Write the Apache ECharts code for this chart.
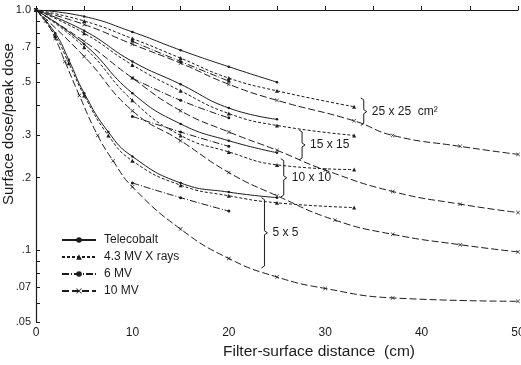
<!DOCTYPE html>
<html>
<head>
<meta charset="utf-8">
<script src="https://cdn.jsdelivr.net/npm/echarts@6/dist/echarts.min.js"></script>
<style>
  html, body { margin: 0; padding: 0; background: #fff; }
  #chart { width: 521px; height: 365px; }
</style>
</head>
<body>
<div id="chart"></div>
<script>
// [distance cm, surface dose / peak dose]
var cobalt25 = [[0,1],[5,0.94],[10,0.81],[15,0.68],[20,0.58],[25,0.50]];
var x43_25   = [[0,1],[5,0.90],[10,0.76],[15,0.63],[20,0.52],[25,0.46],[33,0.395]];
var mv6_25   = [[10,0.74],[15,0.61],[20,0.505]];
var mv10_25  = [[0,1],[5,0.87],[10,0.72],[15,0.60],[20,0.49],[25,0.42],[33,0.345],[37,0.30],[44,0.27],[50,0.25]];

var cobalt15 = [[0,1],[5,0.82],[10,0.61],[15,0.49],[20,0.39],[25,0.35]];
var x43_15   = [[0,1],[5,0.80],[10,0.59],[15,0.46],[20,0.37],[25,0.33],[33,0.30]];
var mv6_15   = [[10,0.52],[15,0.42],[20,0.355]];
var mv10_15  = [[0,1],[5,0.74],[10,0.52],[15,0.38],[20,0.31],[25,0.26],[30,0.215],[37,0.175],[44,0.155],[50,0.143]];

var cobalt10 = [[0,1],[5,0.72],[10,0.45],[15,0.335],[20,0.285],[25,0.254]];
var x43_10   = [[0,1],[5,0.70],[10,0.42],[15,0.30],[20,0.256],[25,0.226],[33,0.216]];
var mv6_10   = [[10,0.36],[15,0.31],[20,0.27]];
var mv10_10  = [[0,1],[5,0.64],[10,0.38],[15,0.285],[20,0.21],[25,0.168],[31,0.133],[37,0.116],[44,0.105],[50,0.098]];

var cobalt5  = [[0,1],[2,0.80],[3.4,0.62],[5,0.45],[7.5,0.31],[10,0.245],[15,0.19],[20,0.174],[25,0.165]];
var x43_5    = [[0,1],[2,0.78],[3.4,0.60],[5,0.44],[7.5,0.30],[10,0.235],[15,0.186],[20,0.168],[25,0.157],[33,0.15]];
var mv6_5    = [[10,0.19],[15,0.165],[20,0.145]];
var mv10_5   = [[0,1],[1,0.9],[2,0.76],[3,0.61],[4.5,0.44],[6.4,0.30],[8,0.235],[10,0.183],[15,0.122],[20,0.092],[25,0.077],[30,0.069],[37,0.063],[50,0.061]];

// y axis ticks / labels (log scale)
var yTickValues  = [1,0.9,0.8,0.7,0.6,0.5,0.4,0.3,0.2,0.1,0.09,0.08,0.07,0.06,0.05];
var yLabelValues = [1,0.7,0.5,0.3,0.2,0.1,0.07,0.05];
var yLabelTexts  = ['1.0','.7','.5','.3','.2','.1','.07','.05'];

// field-size braces: x (cm), top and bottom value, text
var braceX      = [34, 27.6, 25.7, 23.7];
var braceTop    = [0.43, 0.316, 0.24, 0.165];
var braceBottom = [0.33, 0.237, 0.166, 0.084];
var braceText   = ['25 x 25  cm\u00b2', '15 x 15', '10 x 10', '5 x 5'];

var INK = '#1c1c1c';
var FONT = '"Liberation Sans", Arial, sans-serif';
var cross = 'path://M0,1L1,0L5,4L9,0L10,1L6,5L10,9L9,10L5,6L1,10L0,9L4,5Z';

var beams = {
    'Telecobalt':    {type: 'solid',       symbol: 'circle',   size: 2.5},
    '4.3 MV X rays': {type: [3, 2],        symbol: 'triangle', size: 4},
    '6 MV':          {type: [7, 2, 1, 2],  symbol: 'circle',   size: 3},
    '10 MV':         {type: [7, 3],        symbol: cross,      size: 4}
};
var curves = [
    ['Telecobalt', cobalt25], ['4.3 MV X rays', x43_25], ['6 MV', mv6_25], ['10 MV', mv10_25],
    ['Telecobalt', cobalt15], ['4.3 MV X rays', x43_15], ['6 MV', mv6_15], ['10 MV', mv10_15],
    ['Telecobalt', cobalt10], ['4.3 MV X rays', x43_10], ['6 MV', mv6_10], ['10 MV', mv10_10],
    ['Telecobalt', cobalt5],  ['4.3 MV X rays', x43_5],  ['6 MV', mv6_5],  ['10 MV', mv10_5]
];

function lg(v){ return Math.log10(v); }

var series = curves.map(function(c){
    var b = beams[c[0]];
    return {
        name: c[0],
        type: 'line',
        smooth: 0.5,
        symbol: b.symbol,
        symbolSize: b.size,
        itemStyle: {color: INK},
        lineStyle: {color: INK, width: 1, type: b.type},
        data: c[1].map(function(p){ return [p[0], lg(p[1])]; })
    };
});

series.push({
    type: 'custom',
    clip: false,
    z: 5,
    encode: {x: 0, y: [1, 2]},
    data: braceX.map(function(x, i){ return [x, lg(braceTop[i]), lg(braceBottom[i])]; }),
    renderItem: function(params, api){
        var p1 = api.coord([api.value(0), api.value(1)]);
        var p2 = api.coord([api.value(0), api.value(2)]);
        var px = p1[0], ym = (p1[1] + p2[1]) / 2;
        return {
            type: 'group',
            children: [{
                type: 'polyline',
                shape: {points: [[px-3,p1[1]],[px,p1[1]+2],[px,ym-2],[px+3,ym],[px,ym+2],[px,p2[1]-2],[px-3,p2[1]]]},
                style: {stroke: INK, fill: null, lineWidth: 1}
            }, {
                type: 'text',
                x: px + 8,
                y: ym,
                style: {text: braceText[params.dataIndex], fill: INK, fontSize: 12, fontFamily: FONT, verticalAlign: 'middle'}
            }]
        };
    }
});

var myChart = echarts.init(document.getElementById('chart'));
var option = {
    animation: false,
    backgroundColor: '#fff',
    grid: {left: 36, right: 3, top: 10, bottom: 43, containLabel: false, outerBoundsMode: 'none'},
    legend: {
        data: ['Telecobalt', '4.3 MV X rays', '6 MV', '10 MV'],
        orient: 'vertical',
        left: 56,
        top: 229,
        itemWidth: 34,
        itemHeight: 7,
        itemGap: 5,
        textStyle: {color: INK, fontSize: 12, fontFamily: FONT, padding: [0, 0, 0, 3]}
    },
    xAxis: {
        type: 'value',
        min: 0,
        max: 50,
        interval: 5,
        axisLine: {lineStyle: {color: INK, width: 1.2}},
        axisTick: {inside: true, length: 4, lineStyle: {color: INK}},
        axisLabel: {
            color: INK, fontSize: 12, fontFamily: FONT, margin: 5,
            formatter: function(v){ return v % 10 === 0 ? String(v) : ''; }
        },
        splitLine: {show: false}
    },
    yAxis: {
        type: 'value',
        min: lg(0.05),
        max: 0,
        axisLine: {show: true, lineStyle: {color: INK, width: 1.2}},
        axisTick: {show: true, inside: true, length: 4, lineStyle: {color: INK}, customValues: yTickValues.map(lg)},
        axisLabel: {
            color: INK, fontSize: 11, fontFamily: FONT, margin: 5,
            customValues: yLabelValues.map(lg),
            formatter: function(v){
                var best = 0;
                for (var i = 0; i < yLabelValues.length; i++) {
                    if (Math.abs(lg(yLabelValues[i]) - v) < Math.abs(lg(yLabelValues[best]) - v)) best = i;
                }
                return yLabelTexts[best];
            }
        },
        splitLine: {show: false}
    },
    graphic: [{
        type: 'text',
        x: 9,
        y: 124,
        rotation: Math.PI / 2,
        style: {text: 'Surface dose/peak dose', fill: INK, fontSize: 15, fontFamily: FONT, align: 'center', verticalAlign: 'middle'}
    }, {
        type: 'text',
        x: 319,
        y: 352,
        style: {text: 'Filter-surface distance  (cm)', fill: INK, fontSize: 15.5, fontFamily: FONT, align: 'center', verticalAlign: 'middle'}
    }],
    series: series
};
myChart.setOption(option);
</script>
</body>
</html>
